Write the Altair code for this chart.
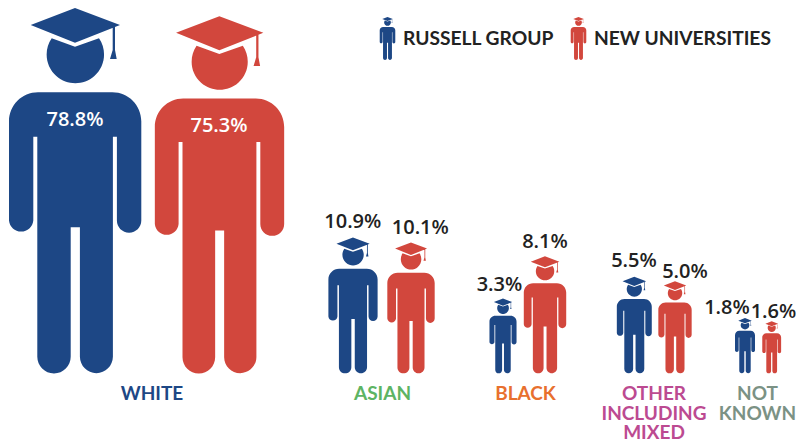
import altair as alt
import pandas as pd

# --- values
categories = ["WHITE", "ASIAN", "BLACK", "OTHER\nINCLUDING\nMIXED", "NOT\nKNOWN"]
russell = [78.8, 10.9, 3.3, 5.5, 1.8]
new_unis = [75.3, 10.1, 8.1, 5.0, 1.6]
series = ["RUSSELL GROUP", "NEW UNIVERSITIES"]

# --- layout (page pixel coordinates, used through linear scales)
russell_x = [75.15, 353, 503, 634.3, 745]
new_x = [219.5, 411, 545, 675, 771.7]
russell_lab_x = [75, 352.8, 499.5, 634, 727]
new_lab_x = [219, 420.3, 545, 685, 773.5]
russell_lab_y = [126, 228.3, 290.7, 266.7, 314]
new_lab_y = [131.7, 234.3, 248.3, 277.7, 318]
cat_x = [152, 382.5, 525.5, 654, 757.5]
cat_y = 400
baseline_y = 373.3
fig_height = 365.3
X0, X1, Y0, Y1 = 8, 796, 8, 441

colors = ["#1D4785", "#D2473D"]
cat_colors = ["#1D4785", "#5DB463", "#E8702E", "#BC4A91", "#7B9285"]
dark = "#222222"

# --- person glyph: feet on y=0, top of the cap at y=-2, x centred on 0
k = 2 / fig_height


def P(x, y):
    return f"{(x - 75.15) * k:.5f} {(y - baseline_y) * k:.5f}"


def A(r, large, sweep, x, y):
    return f"A {r * k:.5f} {r * k:.5f} 0 {large} {sweep} {P(x, y)}"


GLYPH = " ".join([
    # cap
    f"M {P(75, 8)} L {P(120, 25)} L {P(75, 42.7)} L {P(30.7, 25)} Z",
    # tassel
    f"M {P(112.7, 27)} L {P(115, 26.2)} L {P(115, 50)} L {P(116.7, 59)} L {P(110, 59)} L {P(112.7, 50)} Z",
    # head
    f"M {P(51.7, 38.3)} L {P(75, 46.7)} L {P(99, 38.3)} {A(28.7, 1, 1, 51.7, 38.3)} Z",
    # body
    f"M {P(38, 92.3)} L {P(112.3, 92.3)} {A(29, 0, 1, 141.3, 121.3)} L {P(141.3, 220.5)}",
    f"{A(12.2, 0, 1, 116.9, 220.5)} L {P(116.9, 136.7)} L {P(112.9, 136.7)} L {P(112.9, 356.8)}",
    f"{A(16.5, 0, 1, 79.9, 356.8)} L {P(79.9, 227.3)} L {P(70.7, 227.3)} L {P(70.7, 356.8)}",
    f"{A(16.7, 0, 1, 37.3, 356.8)} L {P(37.3, 136.7)} L {P(33.3, 136.7)} L {P(33.3, 220.5)}",
    f"{A(12.2, 0, 1, 9, 220.5)} L {P(9, 121.3)} {A(29, 0, 1, 38, 92.3)} Z",
])

figures = pd.DataFrame(
    [dict(series=series[0], value=v, x=x, y=baseline_y) for v, x in zip(russell, russell_x)]
    + [dict(series=series[1], value=v, x=x, y=baseline_y) for v, x in zip(new_unis, new_x)]
)
pct = pd.DataFrame(
    [dict(label=f"{v:.1f}%", x=x, y=y) for v, x, y in zip(russell, russell_lab_x, russell_lab_y)]
    + [dict(label=f"{v:.1f}%", x=x, y=y) for v, x, y in zip(new_unis, new_lab_x, new_lab_y)]
)
pct_in = pct[pct.label.isin(["78.8%", "75.3%"])]
pct_out = pct[~pct.label.isin(["78.8%", "75.3%"])]
cat_rows = pd.DataFrame({"cat": categories, "x": cat_x, "y": [cat_y] * len(categories)})
legend_icons = pd.DataFrame({"series": series, "x": [387.5, 578.5], "y": [60, 60]})
legend_text = pd.DataFrame({"series": series, "x": [403, 594], "y": [45, 45]})

X = alt.X("x:Q", axis=None, scale=alt.Scale(domain=[X0, X1], nice=False, zero=False))
Y = alt.Y("y:Q", axis=None, scale=alt.Scale(domain=[Y1, Y0], nice=False, zero=False))
FILL = alt.Fill("series:N", legend=None, scale=alt.Scale(domain=series, range=colors))

fig_layer = alt.Chart(figures).mark_point(shape=GLYPH, filled=True, opacity=1).encode(
    x=X, y=Y, fill=FILL,
    size=alt.Size("value:Q", legend=None,
                  scale=alt.Scale(domain=[0, 78.8], range=[0, fig_height ** 2], zero=True)),
)
icon_layer = alt.Chart(legend_icons).mark_point(shape=GLYPH, filled=True, opacity=1, size=43 ** 2).encode(
    x=X, y=Y, fill=FILL
)
legend_labels = alt.Chart(legend_text).mark_text(
    align="left", baseline="alphabetic", font="Lato", fontWeight="bold", fontSize=19.2, color=dark
).encode(x=X, y=Y, text="series:N")
pct_dark = alt.Chart(pct_out).mark_text(
    align="center", baseline="alphabetic", font="Open Sans", fontWeight=600, fontSize=20, color=dark
).encode(x=X, y=Y, text="label:N")
pct_white = alt.Chart(pct_in).mark_text(
    align="center", baseline="alphabetic", font="Open Sans", fontWeight=600, fontSize=20, color="#FFFFFF"
).encode(x=X, y=Y, text="label:N")
cat_labels = alt.Chart(cat_rows).mark_text(
    align="center", baseline="alphabetic", font="Lato", fontWeight="bold", fontSize=19,
    lineBreak="\n", lineHeight=19.5
).encode(
    x=X, y=Y, text="cat:N",
    color=alt.Color("cat:N", legend=None, scale=alt.Scale(domain=categories, range=cat_colors)),
)

chart = alt.layer(fig_layer, icon_layer, legend_labels, pct_dark, pct_white, cat_labels).properties(
    width=X1 - X0, height=Y1 - Y0, padding=0, autosize=alt.AutoSizeParams(type="none")
).configure_view(stroke=None)

chart.save("out.html", embed_options={"renderer": "svg", "actions": False})
